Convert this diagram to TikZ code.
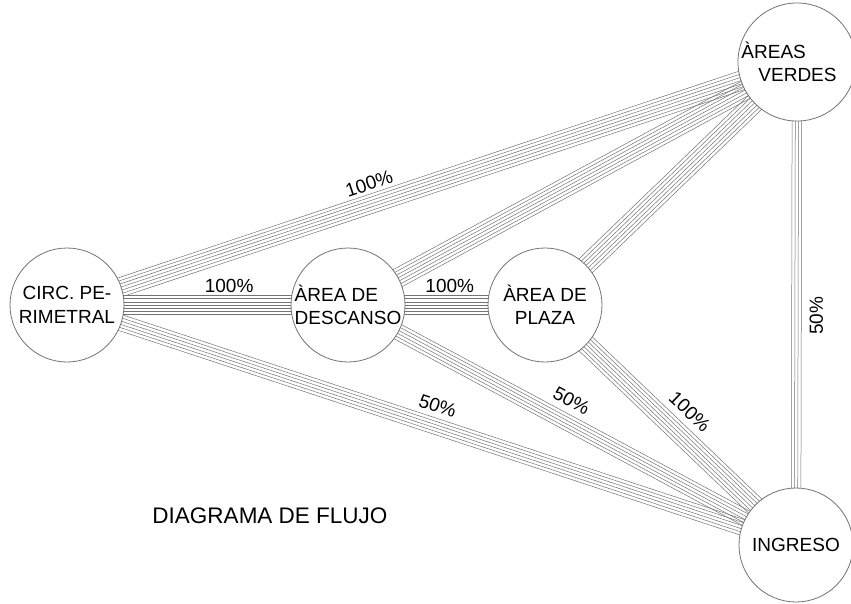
\documentclass[tikz,border=0pt]{standalone}
\usepackage{fontspec}
\setmainfont{Liberation Sans}
\usetikzlibrary{calc,backgrounds}

\tikzset{
  zona/.style={circle,draw=black!55,line width=0.8pt,fill=white,minimum size=114pt,inner sep=0pt,
    font=\fontsize{19}{23.5}\selectfont},
  haz/.style={draw=black!55,line width=0.5pt},
  etiq/.style={font=\fontsize{19}{22}\selectfont,inner sep=1pt}
}
% bundle of parallel lines between two nodes: from, to, number of lines
\newcommand{\haz}[3]{%
  \foreach \i in {1,...,#3}{%
    \pgfmathsetmacro\off{(\i-(#3+1)/2)*3.2}
    \draw[haz] ($(#1)!\off pt!90:(#2)$) -- ($(#2)!\off pt!-90:(#1)$);
  }}

\begin{document}
\begin{tikzpicture}[x=1pt,y=-1pt]
  \useasboundingbox (0,0) rectangle (851,604);
  % zonas
  \node[zona,align=center] (circ) at (67,305) {CIRC. PE-\\RIMETRAL};
  \node[zona,align=left] (descanso) at (348,305) {ÀREA DE\\DESCANSO};
  \node[zona,align=center] (plaza) at (545,305) {ÀREA DE\\PLAZA};
  \node[zona,align=left] (verdes) at (797,62) {ÀREAS\\\hspace*{17pt}VERDES\hspace*{16pt}};
  \node[zona] (ingreso) at (796,545) {INGRESO};
  % flujos
  \begin{pgfonlayer}{background}
    \haz{circ}{verdes}{7}
    \haz{circ}{descanso}{7}
    \haz{descanso}{plaza}{7}
    \haz{descanso}{verdes}{7}
    \haz{plaza}{verdes}{7}
    \haz{circ}{ingreso}{6}
    \haz{descanso}{ingreso}{6}
    \haz{plaza}{ingreso}{7}
    \haz{ingreso}{verdes}{4}
  \end{pgfonlayer}
  % porcentajes
  \path (circ) -- (verdes) node[etiq,pos=0.41,sloped,above=12pt] {100\%};
  \path (circ) -- (descanso) node[etiq,pos=0.63,above=11pt] {100\%};
  \path (descanso) -- (plaza) node[etiq,pos=0.54,above=11pt] {100\%};
  \path (circ) -- (ingreso) node[etiq,pos=0.50,sloped,above=12pt] {50\%};
  \path (descanso) -- (ingreso) node[etiq,pos=0.47,sloped,above=13pt] {50\%};
  \path (plaza) -- (ingreso) node[etiq,pos=0.52,sloped,above=15pt] {100\%};
  \path (ingreso) -- (verdes) node[etiq,pos=0.47,sloped,below=12pt] {50\%};
  \node[font=\fontsize{22.5}{26}\selectfont] (titulo) at (270,516) {DIAGRAMA DE FLUJO};
\end{tikzpicture}
\end{document}
